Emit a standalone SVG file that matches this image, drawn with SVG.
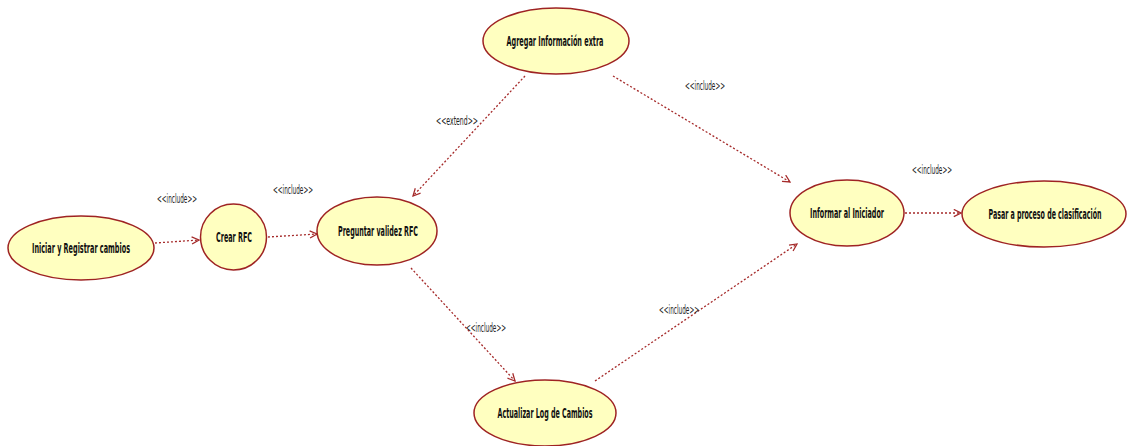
<svg xmlns="http://www.w3.org/2000/svg" width="1133" height="446" viewBox="0 0 1133 446">
  <style>
    .uc ellipse { fill: #ffffc0; stroke: #9e2323; stroke-width: 1.5; }
    .uc text { font-family: "DejaVu Sans Condensed", "Liberation Sans", sans-serif; font-size: 14px; font-weight: bold; fill: #111; text-anchor: middle; }
    .dep { fill: none; stroke: #a52a2a; stroke-width: 1.3; stroke-dasharray: 2 2; marker-end: url(#open); }
    .lbl { font-family: "DejaVu Sans Condensed", "Liberation Sans", sans-serif; font-size: 11.5px; fill: #222; text-anchor: middle; }
  </style>
  <defs>
    <marker id="open" viewBox="0 0 10 10" refX="9" refY="5" markerWidth="9" markerHeight="9" markerUnits="userSpaceOnUse" orient="auto">
      <path d="M1,1 L9,5 L1,9" fill="none" stroke="#a52a2a" stroke-width="1.4"/>
    </marker>
  </defs>
  <rect width="1133" height="446" fill="#ffffff"/>

  <g id="connectors">
    <path class="dep" d="M155,243 L199,240"/>
    <path class="dep" d="M268,237 L317,234"/>
    <path class="dep" d="M525,76 L413,196"/>
    <path class="dep" d="M613,76 L790,182"/>
    <path class="dep" d="M411,268 L515,381"/>
    <path class="dep" d="M595,381 L797,244"/>
    <path class="dep" d="M905,213 L961,213"/>
    <text class="lbl" x="177" y="203" textLength="40" lengthAdjust="spacingAndGlyphs">&lt;&lt;include&gt;&gt;</text>
    <text class="lbl" x="293" y="194" textLength="40" lengthAdjust="spacingAndGlyphs">&lt;&lt;include&gt;&gt;</text>
    <text class="lbl" x="457" y="125" textLength="42" lengthAdjust="spacingAndGlyphs">&lt;&lt;extend&gt;&gt;</text>
    <text class="lbl" x="705" y="90" textLength="40" lengthAdjust="spacingAndGlyphs">&lt;&lt;include&gt;&gt;</text>
    <text class="lbl" x="486" y="332" textLength="40" lengthAdjust="spacingAndGlyphs">&lt;&lt;include&gt;&gt;</text>
    <text class="lbl" x="679" y="314" textLength="40" lengthAdjust="spacingAndGlyphs">&lt;&lt;include&gt;&gt;</text>
    <text class="lbl" x="932" y="174" textLength="40" lengthAdjust="spacingAndGlyphs">&lt;&lt;include&gt;&gt;</text>
  </g>

  <g id="iniciar" class="uc">
    <ellipse cx="81" cy="248" rx="73" ry="32"/>
    <text x="81" y="253" textLength="98" lengthAdjust="spacingAndGlyphs">Iniciar y Registrar cambios</text>
  </g>
  <g id="crear" class="uc">
    <ellipse cx="233.5" cy="237" rx="33" ry="33"/>
    <text x="234" y="242" textLength="36" lengthAdjust="spacingAndGlyphs">Crear RFC</text>
  </g>
  <g id="preguntar" class="uc">
    <ellipse cx="377" cy="231" rx="60" ry="34"/>
    <text x="378" y="236" textLength="80" lengthAdjust="spacingAndGlyphs">Preguntar validez RFC</text>
  </g>
  <g id="agregar" class="uc">
    <ellipse cx="556" cy="41" rx="73" ry="33"/>
    <text x="555" y="46" textLength="97" lengthAdjust="spacingAndGlyphs">Agregar Información extra</text>
  </g>
  <g id="informar" class="uc">
    <ellipse cx="847" cy="213" rx="57" ry="33"/>
    <text x="847" y="218" textLength="74" lengthAdjust="spacingAndGlyphs">Informar al Iniciador</text>
  </g>
  <g id="pasar" class="uc">
    <ellipse cx="1044" cy="214" rx="82" ry="33"/>
    <text x="1045" y="219" textLength="113" lengthAdjust="spacingAndGlyphs">Pasar a proceso de clasificación</text>
  </g>
  <g id="actualizar" class="uc">
    <ellipse cx="545" cy="413" rx="71" ry="33"/>
    <text x="545" y="418" textLength="95" lengthAdjust="spacingAndGlyphs">Actualizar Log de Cambios</text>
  </g>
</svg>
